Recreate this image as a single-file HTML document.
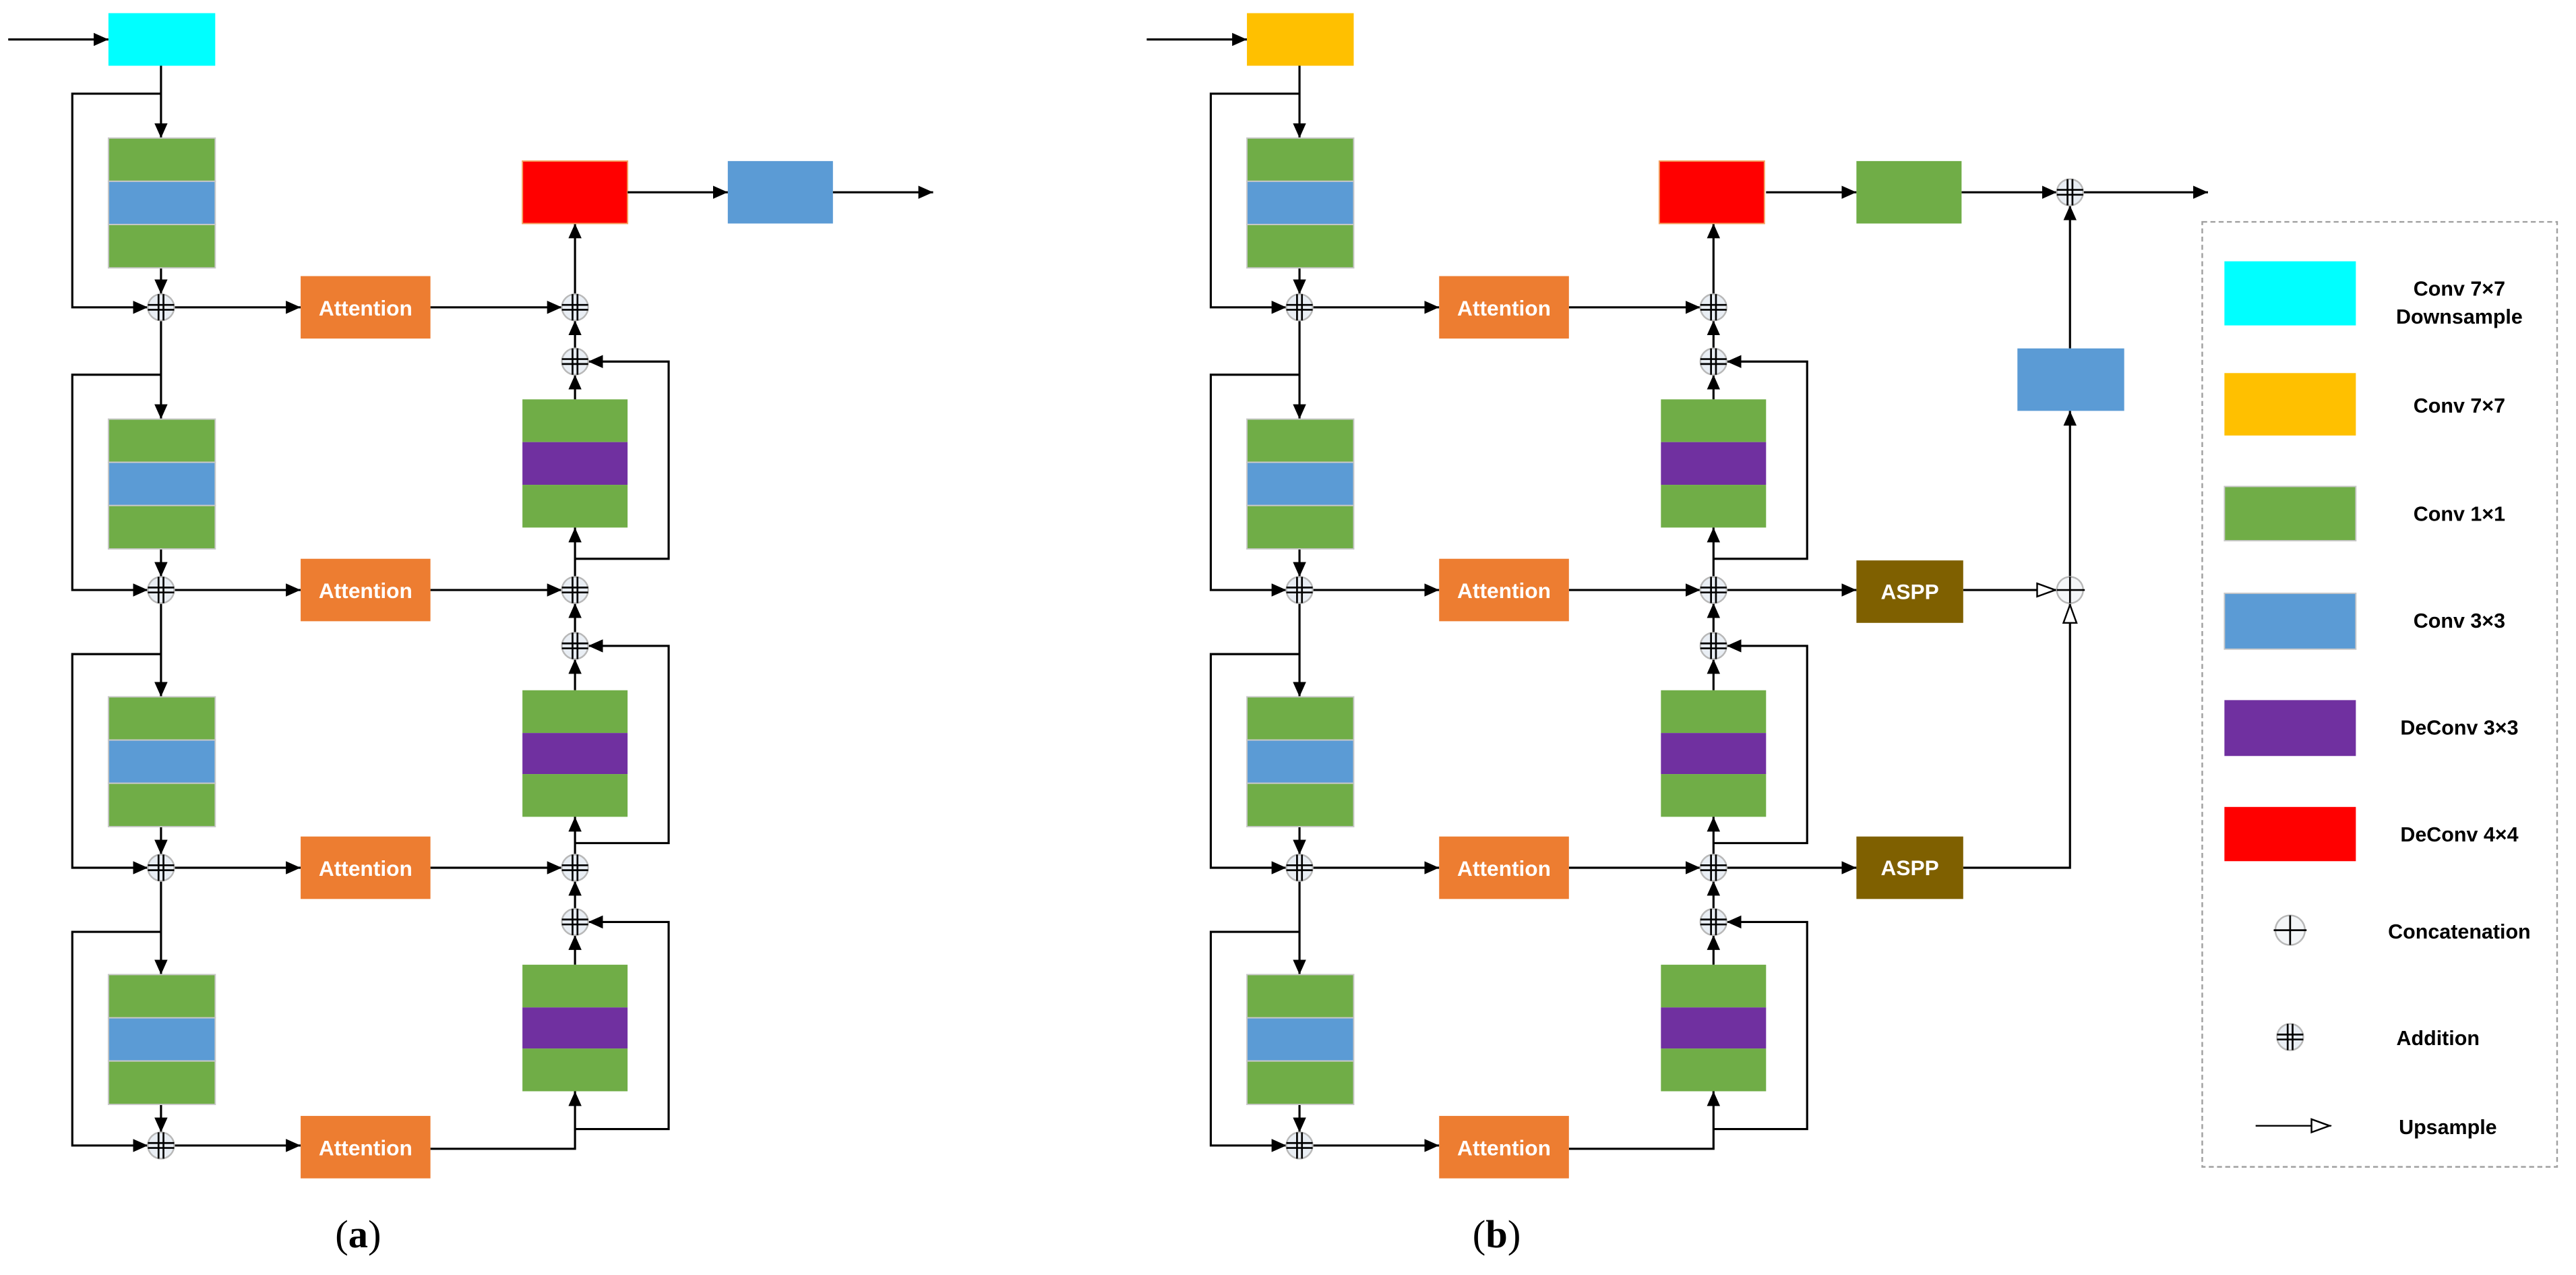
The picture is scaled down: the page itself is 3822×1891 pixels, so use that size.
<!DOCTYPE html>
<html><head><meta charset="utf-8"><style>
html,body{margin:0;padding:0;background:#fff;}
svg{display:block;}
.t{font-family:"Liberation Sans",sans-serif;font-weight:bold;}
</style></head><body>
<svg width="3822" height="1891" viewBox="0 0 1568 775.8" xmlns="http://www.w3.org/2000/svg">
<defs>
<marker id="a" markerUnits="userSpaceOnUse" markerWidth="10" markerHeight="8" refX="9" refY="4" orient="auto"><path d="M0,0 L9,4 L0,8 z" fill="#000"/></marker>
<marker id="h" markerUnits="userSpaceOnUse" markerWidth="14" markerHeight="10" refX="13" refY="5" orient="auto"><path d="M1,1 L12,5 L1,9 z" fill="#fff" stroke="#000" stroke-width="1"/></marker>
</defs>
<rect width="1568" height="775.8" fill="#fff"/>

<!-- ================= PANEL A ================= -->
<g id="pa">
<g fill="none" stroke="#000" stroke-width="1.3">
<path d="M5 24 H66" marker-end="url(#a)"/>
<!-- encoder -->
<path d="M98 40 V84" marker-end="url(#a)"/>
<path d="M98 57 H44 V187 H90" marker-end="url(#a)"/>
<path d="M98 163 V179" marker-end="url(#a)"/>
<path d="M98 195 V255" marker-end="url(#a)"/>
<path d="M98 228 H44 V359 H90" marker-end="url(#a)"/>
<path d="M98 334 V351" marker-end="url(#a)"/>
<path d="M98 367 V424" marker-end="url(#a)"/>
<path d="M98 398 H44 V528 H90" marker-end="url(#a)"/>
<path d="M98 503 V520" marker-end="url(#a)"/>
<path d="M98 536 V593" marker-end="url(#a)"/>
<path d="M98 567 H44 V697 H90" marker-end="url(#a)"/>
<path d="M98 672 V689" marker-end="url(#a)"/>
<!-- to attention -->
<path d="M106 187 H183" marker-end="url(#a)"/>
<path d="M106 359 H183" marker-end="url(#a)"/>
<path d="M106 528 H183" marker-end="url(#a)"/>
<path d="M106 697 H183" marker-end="url(#a)"/>
<!-- attention to decoder -->
<path d="M262 187 H342" marker-end="url(#a)"/>
<path d="M262 359 H342" marker-end="url(#a)"/>
<path d="M262 528 H342" marker-end="url(#a)"/>
<path d="M262 699 H350 V664" marker-end="url(#a)"/>
<!-- decoder -->
<path d="M350 179 V136" marker-end="url(#a)"/>
<path d="M350 212 V195" marker-end="url(#a)"/>
<path d="M350 243 V228" marker-end="url(#a)"/>
<path d="M350 351 V321" marker-end="url(#a)"/>
<path d="M350 340 H407 V220 H358" marker-end="url(#a)"/>
<path d="M350 385 V367" marker-end="url(#a)"/>
<path d="M350 420 V401" marker-end="url(#a)"/>
<path d="M350 520 V497" marker-end="url(#a)"/>
<path d="M350 513 H407 V393 H358" marker-end="url(#a)"/>
<path d="M350 553 V536" marker-end="url(#a)"/>
<path d="M350 587 V569" marker-end="url(#a)"/>
<path d="M350 687 H407 V561 H358" marker-end="url(#a)"/>
</g>
<!-- cyan -->
<rect x="66" y="8" width="65" height="32" fill="#00ffff"/>
<!-- encoder blocks -->
<g stroke="#c8c8c8" stroke-width="0.8">
<rect x="66" y="84" width="65" height="26.3" fill="#70ad47"/><rect x="66" y="110.3" width="65" height="26.3" fill="#5b9bd5"/><rect x="66" y="136.6" width="65" height="26.4" fill="#70ad47"/>
<rect x="66" y="255" width="65" height="26.3" fill="#70ad47"/><rect x="66" y="281.3" width="65" height="26.3" fill="#5b9bd5"/><rect x="66" y="307.6" width="65" height="26.4" fill="#70ad47"/>
<rect x="66" y="424" width="65" height="26.3" fill="#70ad47"/><rect x="66" y="450.3" width="65" height="26.3" fill="#5b9bd5"/><rect x="66" y="476.6" width="65" height="26.4" fill="#70ad47"/>
<rect x="66" y="593" width="65" height="26.3" fill="#70ad47"/><rect x="66" y="619.3" width="65" height="26.3" fill="#5b9bd5"/><rect x="66" y="645.6" width="65" height="26.4" fill="#70ad47"/>
</g>
<!-- decoder blocks -->
<rect x="318" y="243" width="64" height="26" fill="#70ad47"/><rect x="318" y="269" width="64" height="26" fill="#7030a0"/><rect x="318" y="295" width="64" height="26" fill="#70ad47"/>
<rect x="318" y="420" width="64" height="26" fill="#70ad47"/><rect x="318" y="446" width="64" height="25" fill="#7030a0"/><rect x="318" y="471" width="64" height="26" fill="#70ad47"/>
<rect x="318" y="587" width="64" height="26" fill="#70ad47"/><rect x="318" y="613" width="64" height="25" fill="#7030a0"/><rect x="318" y="638" width="64" height="26" fill="#70ad47"/>
<!-- attention -->
<g fill="#ed7d31"><rect x="183" y="168" width="79" height="38"/><rect x="183" y="340" width="79" height="38"/><rect x="183" y="509" width="79" height="38"/><rect x="183" y="679" width="79" height="38"/></g>
<g class="t" fill="#fff" font-size="13" text-anchor="middle">
<text x="222.5" y="192">Attention</text><text x="222.5" y="364">Attention</text><text x="222.5" y="533">Attention</text><text x="222.5" y="703">Attention</text>
</g>
<!-- adders -->
<g fill="#e9eef4" stroke="#b8b8b8" stroke-width="1">
<circle cx="98" cy="187" r="8"/><circle cx="98" cy="359" r="8"/><circle cx="98" cy="528" r="8"/><circle cx="98" cy="697" r="8"/>
<circle cx="350" cy="187" r="8"/><circle cx="350" cy="220" r="8"/><circle cx="350" cy="359" r="8"/><circle cx="350" cy="393" r="8"/><circle cx="350" cy="528" r="8"/><circle cx="350" cy="561" r="8"/>
</g>
<g stroke="#000" stroke-width="1.1" fill="none">
<path d="M96.5 179V195M99.5 179V195M90 185.5H106M90 188.5H106"/>
<path d="M96.5 351V367M99.5 351V367M90 357.5H106M90 360.5H106"/>
<path d="M96.5 520V536M99.5 520V536M90 526.5H106M90 529.5H106"/>
<path d="M96.5 689V705M99.5 689V705M90 695.5H106M90 698.5H106"/>
<path d="M348.5 179V195M351.5 179V195M342 185.5H358M342 188.5H358"/>
<path d="M348.5 212V228M351.5 212V228M342 218.5H358M342 221.5H358"/>
<path d="M348.5 351V367M351.5 351V367M342 357.5H358M342 360.5H358"/>
<path d="M348.5 385V401M351.5 385V401M342 391.5H358M342 394.5H358"/>
<path d="M348.5 520V536M351.5 520V536M342 526.5H358M342 529.5H358"/>
<path d="M348.5 553V569M351.5 553V569M342 559.5H358M342 562.5H358"/>
</g>
</g>
<!-- panel a top right -->
<rect x="318" y="98" width="64" height="38" fill="#ff0000" stroke="#f4a060" stroke-width="0.8"/>
<rect x="443" y="98" width="64" height="38" fill="#5b9bd5"/>
<g fill="none" stroke="#000" stroke-width="1.3">
<path d="M382 117 H443" marker-end="url(#a)"/>
<path d="M507 117 H568" marker-end="url(#a)"/>
</g>

<!-- ================= PANEL B ================= -->
<g transform="translate(693,0)">
<g fill="none" stroke="#000" stroke-width="1.3">
<path d="M5 24 H66" marker-end="url(#a)"/>
<path d="M98 40 V84" marker-end="url(#a)"/>
<path d="M98 57 H44 V187 H90" marker-end="url(#a)"/>
<path d="M98 163 V179" marker-end="url(#a)"/>
<path d="M98 195 V255" marker-end="url(#a)"/>
<path d="M98 228 H44 V359 H90" marker-end="url(#a)"/>
<path d="M98 334 V351" marker-end="url(#a)"/>
<path d="M98 367 V424" marker-end="url(#a)"/>
<path d="M98 398 H44 V528 H90" marker-end="url(#a)"/>
<path d="M98 503 V520" marker-end="url(#a)"/>
<path d="M98 536 V593" marker-end="url(#a)"/>
<path d="M98 567 H44 V697 H90" marker-end="url(#a)"/>
<path d="M98 672 V689" marker-end="url(#a)"/>
<path d="M106 187 H183" marker-end="url(#a)"/>
<path d="M106 359 H183" marker-end="url(#a)"/>
<path d="M106 528 H183" marker-end="url(#a)"/>
<path d="M106 697 H183" marker-end="url(#a)"/>
<path d="M262 187 H342" marker-end="url(#a)"/>
<path d="M262 359 H342" marker-end="url(#a)"/>
<path d="M262 528 H342" marker-end="url(#a)"/>
<path d="M262 699 H350 V664" marker-end="url(#a)"/>
<path d="M350 179 V136" marker-end="url(#a)"/>
<path d="M350 212 V195" marker-end="url(#a)"/>
<path d="M350 243 V228" marker-end="url(#a)"/>
<path d="M350 351 V321" marker-end="url(#a)"/>
<path d="M350 340 H407 V220 H358" marker-end="url(#a)"/>
<path d="M350 385 V367" marker-end="url(#a)"/>
<path d="M350 420 V401" marker-end="url(#a)"/>
<path d="M350 520 V497" marker-end="url(#a)"/>
<path d="M350 513 H407 V393 H358" marker-end="url(#a)"/>
<path d="M350 553 V536" marker-end="url(#a)"/>
<path d="M350 587 V569" marker-end="url(#a)"/>
<path d="M350 687 H407 V561 H358" marker-end="url(#a)"/>
<!-- ASPP connections -->
<path d="M358 359 H437" marker-end="url(#a)"/>
<path d="M358 528 H437" marker-end="url(#a)"/>
</g>
<rect x="66" y="8" width="65" height="32" fill="#ffc000"/>
<g stroke="#c8c8c8" stroke-width="0.8">
<rect x="66" y="84" width="65" height="26.3" fill="#70ad47"/><rect x="66" y="110.3" width="65" height="26.3" fill="#5b9bd5"/><rect x="66" y="136.6" width="65" height="26.4" fill="#70ad47"/>
<rect x="66" y="255" width="65" height="26.3" fill="#70ad47"/><rect x="66" y="281.3" width="65" height="26.3" fill="#5b9bd5"/><rect x="66" y="307.6" width="65" height="26.4" fill="#70ad47"/>
<rect x="66" y="424" width="65" height="26.3" fill="#70ad47"/><rect x="66" y="450.3" width="65" height="26.3" fill="#5b9bd5"/><rect x="66" y="476.6" width="65" height="26.4" fill="#70ad47"/>
<rect x="66" y="593" width="65" height="26.3" fill="#70ad47"/><rect x="66" y="619.3" width="65" height="26.3" fill="#5b9bd5"/><rect x="66" y="645.6" width="65" height="26.4" fill="#70ad47"/>
</g>
<rect x="318" y="243" width="64" height="26" fill="#70ad47"/><rect x="318" y="269" width="64" height="26" fill="#7030a0"/><rect x="318" y="295" width="64" height="26" fill="#70ad47"/>
<rect x="318" y="420" width="64" height="26" fill="#70ad47"/><rect x="318" y="446" width="64" height="25" fill="#7030a0"/><rect x="318" y="471" width="64" height="26" fill="#70ad47"/>
<rect x="318" y="587" width="64" height="26" fill="#70ad47"/><rect x="318" y="613" width="64" height="25" fill="#7030a0"/><rect x="318" y="638" width="64" height="26" fill="#70ad47"/>
<g fill="#ed7d31"><rect x="183" y="168" width="79" height="38"/><rect x="183" y="340" width="79" height="38"/><rect x="183" y="509" width="79" height="38"/><rect x="183" y="679" width="79" height="38"/></g>
<g class="t" fill="#fff" font-size="13" text-anchor="middle">
<text x="222.5" y="192">Attention</text><text x="222.5" y="364">Attention</text><text x="222.5" y="533">Attention</text><text x="222.5" y="703">Attention</text>
</g>
<g fill="#e9eef4" stroke="#b8b8b8" stroke-width="1">
<circle cx="98" cy="187" r="8"/><circle cx="98" cy="359" r="8"/><circle cx="98" cy="528" r="8"/><circle cx="98" cy="697" r="8"/>
<circle cx="350" cy="187" r="8"/><circle cx="350" cy="220" r="8"/><circle cx="350" cy="359" r="8"/><circle cx="350" cy="393" r="8"/><circle cx="350" cy="528" r="8"/><circle cx="350" cy="561" r="8"/>
</g>
<g stroke="#000" stroke-width="1.1" fill="none">
<path d="M96.5 179V195M99.5 179V195M90 185.5H106M90 188.5H106"/>
<path d="M96.5 351V367M99.5 351V367M90 357.5H106M90 360.5H106"/>
<path d="M96.5 520V536M99.5 520V536M90 526.5H106M90 529.5H106"/>
<path d="M96.5 689V705M99.5 689V705M90 695.5H106M90 698.5H106"/>
<path d="M348.5 179V195M351.5 179V195M342 185.5H358M342 188.5H358"/>
<path d="M348.5 212V228M351.5 212V228M342 218.5H358M342 221.5H358"/>
<path d="M348.5 351V367M351.5 351V367M342 357.5H358M342 360.5H358"/>
<path d="M348.5 385V401M351.5 385V401M342 391.5H358M342 394.5H358"/>
<path d="M348.5 520V536M351.5 520V536M342 526.5H358M342 529.5H358"/>
<path d="M348.5 553V569M351.5 553V569M342 559.5H358M342 562.5H358"/>
</g>
</g>
<!-- panel b right side -->
<g fill="none" stroke="#000" stroke-width="1.3">
<path d="M1075 117 H1130" marker-end="url(#a)"/>
<path d="M1194 117 H1252" marker-end="url(#a)"/>
<path d="M1268 117 H1344" marker-end="url(#a)"/>
<path d="M1260 212 V125" marker-end="url(#a)"/>
<path d="M1260 351 V250" marker-end="url(#a)"/>
<path d="M1195 359 H1252" marker-end="url(#h)"/>
<path d="M1195 528 H1260 V367" marker-end="url(#h)"/>
</g>
<rect x="1010" y="98" width="64" height="38" fill="#ff0000" stroke="#f4a060" stroke-width="0.8"/>
<rect x="1130" y="98" width="64" height="38" fill="#70ad47"/>
<rect x="1228" y="212" width="65" height="38" fill="#5b9bd5"/>
<rect x="1130" y="341" width="65" height="38" fill="#7f6000"/>
<rect x="1130" y="509" width="65" height="38" fill="#7f6000"/>
<g class="t" fill="#fff" font-size="13" text-anchor="middle">
<text x="1162.5" y="364.5">ASPP</text><text x="1162.5" y="532.5">ASPP</text>
</g>
<circle cx="1260" cy="117" r="8" fill="#e9eef4" stroke="#b8b8b8" stroke-width="1"/>
<path d="M1258.5 109V125M1261.5 109V125M1252 115.5H1268M1252 118.5H1268" stroke="#000" stroke-width="1.1"/>
<circle cx="1260" cy="359" r="8" fill="#f4f6f8" stroke="#b8b8b8" stroke-width="1"/>
<path d="M1260 351V367M1252 359H1269" stroke="#000" stroke-width="1.1"/>

<!-- legend -->
<rect x="1340.5" y="135" width="216" height="575" fill="none" stroke="#a0a0a0" stroke-width="1" stroke-dasharray="3,2"/>
<rect x="1354" y="159" width="80" height="39" fill="#00ffff"/>
<rect x="1354" y="227" width="80" height="38" fill="#ffc000"/>
<rect x="1354" y="296" width="80" height="33" fill="#70ad47" stroke="#c8c8c8" stroke-width="0.8"/>
<rect x="1354" y="361" width="80" height="34" fill="#5b9bd5" stroke="#c8c8c8" stroke-width="0.8"/>
<rect x="1354" y="426" width="80" height="34" fill="#7030a0"/>
<rect x="1354" y="491" width="80" height="33" fill="#ff0000"/>
<circle cx="1394" cy="566" r="9" fill="#f4f6f8" stroke="#b8b8b8" stroke-width="1"/>
<path d="M1394 557V575M1384 566H1404" stroke="#000" stroke-width="1.1"/>
<circle cx="1394" cy="631" r="8" fill="#e9eef4" stroke="#b8b8b8" stroke-width="1"/>
<path d="M1392.5 623V639M1395.5 623V639M1386 629.5H1402M1386 632.5H1402" stroke="#000" stroke-width="1.1"/>
<path d="M1373 685 H1419" fill="none" stroke="#000" stroke-width="1" marker-end="url(#h)"/>
<g class="t" fill="#000" font-size="12.5" text-anchor="middle">
<text x="1497" y="180">Conv 7×7</text>
<text x="1497" y="197">Downsample</text>
<text x="1497" y="251">Conv 7×7</text>
<text x="1497" y="317">Conv 1×1</text>
<text x="1497" y="382">Conv 3×3</text>
<text x="1497" y="447">DeConv 3×3</text>
<text x="1497" y="512">DeConv 4×4</text>
<text x="1497" y="571">Concatenation</text>
<text x="1484" y="636">Addition</text>
<text x="1490" y="690">Upsample</text>
</g>
<!-- captions -->
<g font-family="'Liberation Serif',serif" font-size="24" fill="#000" text-anchor="middle">
<text x="218" y="759">(<tspan font-weight="bold">a</tspan>)</text>
<text x="911" y="759">(<tspan font-weight="bold">b</tspan>)</text>
</g>
</svg>
</body></html>
